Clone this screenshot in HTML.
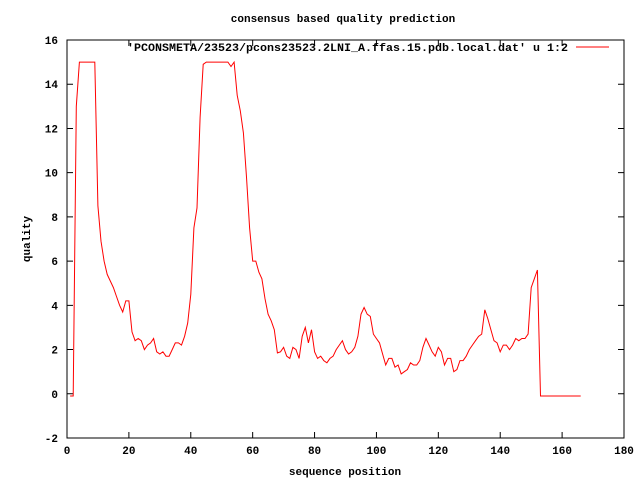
<!DOCTYPE html>
<html><head><meta charset="utf-8"><style>body{margin:0;background:#fff}svg{display:block}text{font-family:"Liberation Mono",monospace;font-size:11px;font-weight:bold;fill:#000}</style></head>
<body>
<svg id="chart" width="640" height="480" xmlns="http://www.w3.org/2000/svg">
<rect width="640" height="480" fill="#fff"/>
<text x="343" y="22" text-anchor="middle">consensus based quality prediction</text>
<g id="axes"></g>
<rect x="67" y="40" width="557" height="398" fill="none" stroke="#000" stroke-width="1"/>
<text x="345" y="475" text-anchor="middle">sequence position</text>
<text transform="translate(30,239) rotate(-90)" text-anchor="middle">quality</text>
<g>
<text x="568" y="51" text-anchor="end" textLength="441" lengthAdjust="spacingAndGlyphs">'PCONSMETA/23523/pcons23523.2LNI_A.ffas.15.pdb.local.dat' u 1:2</text>
<line x1="576" y1="47" x2="609" y2="47" stroke="#f00" stroke-width="1"/>
</g>
<path id="series" fill="none" stroke="#f00" stroke-width="1"/>
</svg>
<script>
const xTicks=[0,20,40,60,80,100,120,140,160,180];
const yTicks=[-2,0,2,4,6,8,10,12,14,16];
const quality=[-0.1,-0.1,13,15,15,15,15,15,15,8.5,
6.9,6,5.4,5.1,4.8,4.4,4.0,3.7,4.2,4.2,
2.8,2.4,2.5,2.4,2.0,2.2,2.3,2.5,1.9,1.8,
1.9,1.7,1.7,2.0,2.3,2.3,2.2,2.6,3.2,4.5,
7.5,8.4,12.5,14.9,15,15,15,15,15,15,
15,15,14.8,15,13.5,12.8,11.8,9.8,7.5,6.0,
6.0,5.5,5.2,4.3,3.6,3.3,2.9,1.85,1.9,2.1,
1.7,1.6,2.1,2.0,1.6,2.6,3.0,2.3,2.9,1.9,
1.6,1.7,1.5,1.4,1.6,1.7,2.0,2.2,2.4,2.0,
1.8,1.9,2.1,2.6,3.6,3.9,3.6,3.5,2.7,2.5,
2.3,1.8,1.3,1.6,1.6,1.2,1.3,0.9,1.0,
1.1,1.4,1.3,1.3,1.5,2.1,2.5,2.2,1.9,1.7,2.1,1.9,1.3,1.6,1.6,1.0,1.1,1.5,1.5,1.7,2.0,2.2,2.4,2.6,2.7,3.8,3.4,2.9,2.4,2.3,1.9,2.2,2.2,2.0,2.2,2.5,2.4,2.5,2.5,2.7,4.8,5.2,5.6,
-0.1,-0.1,-0.1,-0.1,-0.1,-0.1,-0.1,-0.1,-0.1,-0.1,-0.1,-0.1,-0.1,-0.1];
const L=67,R=624,T=40,B=438;
const sx=v=>L+(v-0)/(180-0)*(R-L);
const sy=v=>B-(v+2)/(18)*(B-T);
const ns="http://www.w3.org/2000/svg";
const ax=document.getElementById('axes');
function mk(tag,attrs){const e=document.createElementNS(ns,tag);for(const k in attrs)e.setAttribute(k,attrs[k]);ax.appendChild(e);return e;}
xTicks.forEach(t=>{const x=sx(t);
 const a=mk('path',{d:`M${x},${B}v-6M${x},${T}v6`,stroke:'#000',fill:'none'});
 
 
 const l=mk('text',{x:x,y:B+16,'text-anchor':'middle'});l.textContent=t;
 
 
});
yTicks.forEach(t=>{const y=sy(t);
 const a=mk('path',{d:`M${L},${y}h6M${R},${y}h-6`,stroke:'#000',fill:'none'});
 
 
 const l=mk('text',{x:L-9,y:y+4,'text-anchor':'end'});l.textContent=t;
 
 
});
document.getElementById('series').setAttribute('d',quality.map((v,i)=>(i?'L':'M')+sx(i+1).toFixed(1)+','+sy(v).toFixed(1)).join(''));
</script>
</body></html>
